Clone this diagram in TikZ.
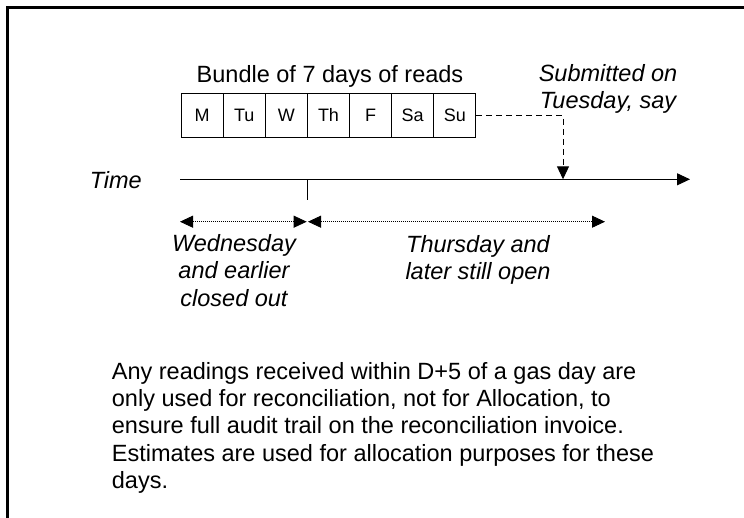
\documentclass[tikz,border=0pt]{standalone}
\usepackage{fontspec}
\setmainfont{Liberation Sans}
\usetikzlibrary{positioning, arrows.meta}

\tikzset{
  daybox/.style={draw, line width=0.9pt, minimum width=42.1pt, minimum height=43.4pt, inner sep=0pt, anchor=north west, font=\fontsize{18}{20}\selectfont},
  lbl/.style={align=center, inner sep=0pt, font=\fontsize{23.5}{27.2}\selectfont\itshape},
  tip/.style={-{Triangle[length=13pt,width=12pt]}},
  span/.style={{Triangle[length=13pt,width=12pt]}-{Triangle[length=13pt,width=12pt]}, line width=0.8pt, dash pattern=on 1pt off 1pt},
}

\begin{document}
\begin{tikzpicture}[x=1pt,y=-1pt]

\useasboundingbox (0,0) rectangle (744,517);
\draw [line width=2.5pt] (7.5,560) |- (800,7.5);

\node[lbl, font=\fontsize{23.5}{27.2}\selectfont, anchor=base] (bundle) at (330,82.7) {Bundle of 7 days of reads};
\foreach \d [count=\i from 0] in {M,Tu,W,Th,F,Sa,Su}
  \node[daybox] (d\i) at (180.7+42.1*\i,93.3) {\d};

% base of a multi-line node is its last line
\node[lbl, anchor=base] (sub) at (608,108.9) {Submitted on\\Tuesday, say};

\node[lbl, anchor=base east] (time) at (142,188) {Time};
\coordinate (t0) at (180,179.3);
\coordinate (t1) at (690,179.3);
\draw [tip, line width=1pt] (t0) -- (t1);

\coordinate (drop) at (563,179.3);
\draw [tip, line width=0.9pt, dash pattern=on 6pt off 4pt] (d6.east) -| (drop);

\coordinate (wed) at (307.3,179.3);
\draw [line width=1pt] (wed) -- ++(0,20.7);

\coordinate (l0) at (180,221.7);
\coordinate (l1) at (306.7,221.7);
\coordinate (r0) at (308,221.7);
\coordinate (r1) at (605,221.7);
\draw [span] (l0) -- (l1);
\draw [span] (r0) -- (r1);

\node[lbl, anchor=base] (closed) at (234,306.1) {Wednesday\\and earlier\\closed out};
\node[lbl, anchor=base] (open) at (478,279.7) {Thursday and\\later still open};

\node[lbl, font=\fontsize{23.5}{27.2}\selectfont, align=left, anchor=base west] (note) at (111.7,488.3)
  {Any readings received within D+5 of a gas day are\\
   only used for reconciliation, not for Allocation, to\\
   ensure full audit trail on the reconciliation invoice.\\
   Estimates are used for allocation purposes for these\\
   days.};

\end{tikzpicture}
\end{document}
